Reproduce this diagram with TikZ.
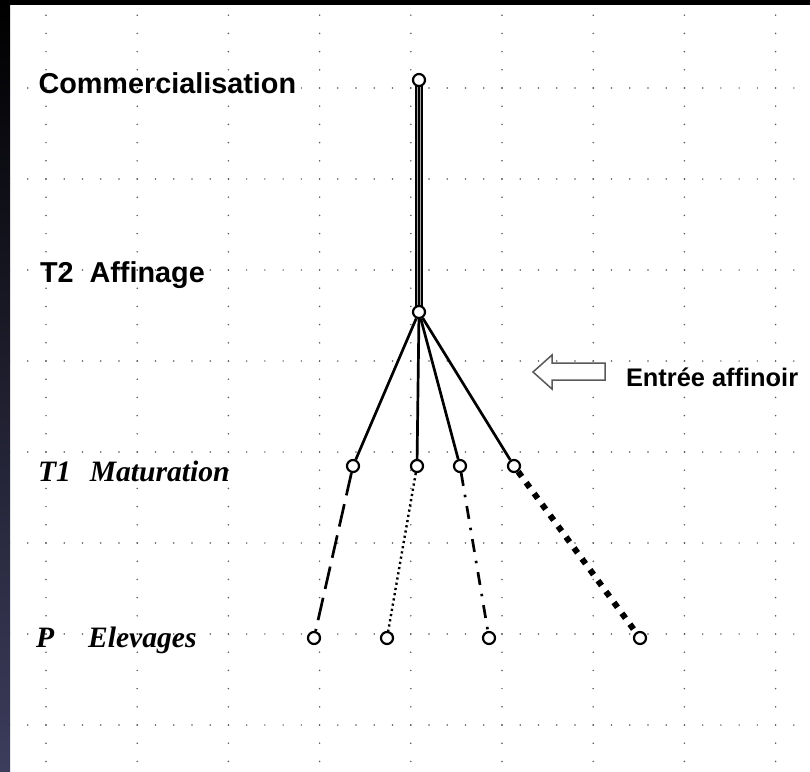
\documentclass[tikz,border=0pt]{standalone}
\usepackage{fontspec}
\setmainfont{Liberation Serif}
\setsansfont{Liberation Sans}
\usetikzlibrary{backgrounds}
\pgfdeclarelayer{edges}
\pgfsetlayers{background,edges,main}
\definecolor{bandbottom}{RGB}{60,60,92}
\tikzset{
  gdot/.style={fill=black!65},
  knot/.style={circle, draw=black, line width=2.2pt, fill=white, minimum size=12pt, inner sep=0pt},
  branch/.style={line width=2.7pt, black},
  lab/.style={anchor=base west, inner sep=0pt, outer sep=0pt},
  labsans/.style={lab, font=\sffamily\bfseries\fontsize{28.8}{30}\selectfont},
  labsmall/.style={lab, font=\sffamily\bfseries\fontsize{25.4}{27}\selectfont},
  labital/.style={lab, font=\rmfamily\bfseries\itshape\fontsize{29.6}{31}\selectfont},
  blockarrow/.style={draw=black!65, line width=1.5pt, fill=white, line join=miter}
}
\begin{document}
\begin{tikzpicture}[x=1pt,y=-1pt]
\useasboundingbox (0,0) rectangle (810,771);
\begin{pgfonlayer}{background}
\fill[white] (0,0) rectangle (810,771);
\foreach \k in {0,...,8}{\foreach \j in {-4,...,37}{\fill[gdot] ({46+91.2*\k},{88+18.2*\j}) circle (0.85);}}
\foreach \r in {0,...,7}{\foreach \j in {-2,...,41}{\fill[gdot] ({46+18.24*\j},{88+91*\r}) circle (0.85);}}
\shade[top color=black, bottom color=bandbottom] (0,0) rectangle (10,771);
\fill[black] (0,0) rectangle (810,5);
\end{pgfonlayer}

% nodes
\node[knot] (top) at (419,80) {};
\node[knot] (mid) at (419,312) {};
\node[knot] (ta) at (353,466) {};
\node[knot] (tb) at (417,466) {};
\node[knot] (tc) at (460,466) {};
\node[knot] (td) at (514,466) {};
\node[knot] (pa) at (314,638) {};
\node[knot] (pb) at (387,638) {};
\node[knot] (pc) at (489,638) {};
\node[knot] (pd) at (640,638) {};

% labels
\node[labsans] (comm) at (38.5,93) {Commercialisation};
\node[labsans] (aff) at (40,282) {T2~~Affinage};
\node[labsmall] (entree) at (626,386) {Entrée affinoir};
\node[labital] (mat) at (38,481) {T1\hspace{19pt}Maturation};
\node[labital] (elev) at (36,647) {P\hspace{34pt}Elevages};

\begin{pgfonlayer}{edges}
\draw[line width=7.5pt, black] (top.center) -- (mid.center);
\draw[line width=4.5pt, black!35] (top.center) -- (mid.center);
\draw[line width=1.4pt, black] (top.center) -- (mid.center);
\draw[branch] (mid) -- (ta);
\draw[branch] (mid) -- (tb);
\draw[branch] (mid) -- (tc);
\draw[branch] (mid) -- (td);
\draw[branch, dash pattern=on 23pt off 9pt] (ta) -- (pa);
\draw[line width=2.4pt, dash pattern=on 2.2pt off 3.1pt] (tb) -- (pb);
\draw[branch, dash pattern=on 13pt off 9pt on 2.5pt off 9pt] (tc) -- (pc);
\draw[line width=6pt, dash pattern=on 6pt off 7.5pt] (td) -- (pd);
\end{pgfonlayer}

\draw[blockarrow] (533,372) -- (552,355) -- (552,363) -- (605,363) -- (605,380) -- (552,380) -- (552,389) -- cycle;
\end{tikzpicture}
\end{document}
